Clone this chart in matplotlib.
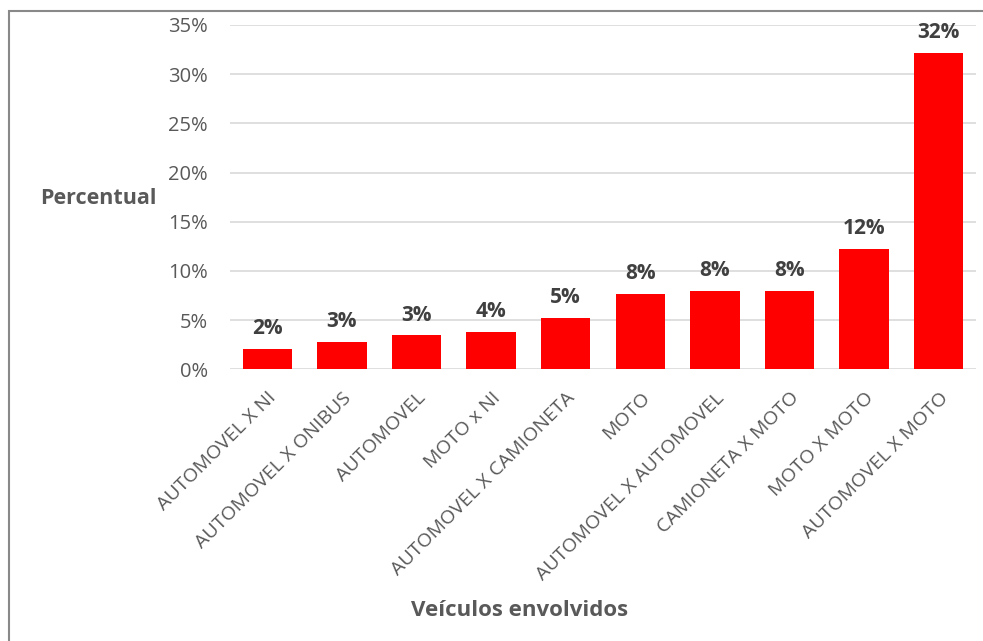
import matplotlib
matplotlib.use('Agg')
import matplotlib.pyplot as plt
from matplotlib.patches import Rectangle
from matplotlib.ticker import FuncFormatter

# data
categorias = ['AUTOMOVEL X NI', 'AUTOMOVEL X ONIBUS', 'AUTOMOVEL', 'MOTO x NI',
              'AUTOMOVEL X CAMIONETA', 'MOTO', 'AUTOMOVEL X AUTOMOVEL',
              'CAMIONETA X MOTO', 'MOTO X MOTO', 'AUTOMOVEL X MOTO']
percentual = [2.05, 2.75, 3.45, 3.8, 5.2, 7.65, 7.95, 7.95, 12.2, 32.2]
y_ticks = [0, 5, 10, 15, 20, 25, 30, 35]

plt.rcParams['font.family'] = ['Open Sans', 'DejaVu Sans']

W, H = 983, 641
fig = plt.figure(figsize=(W / 100, H / 100), dpi=100)
ax = fig.add_axes([230 / W, 1 - 369.3 / H, (976 - 230) / W, (369.3 - 25) / H])

x = range(len(categorias))
bars = ax.bar(x, percentual, width=0.66, color='#ff0000', zorder=3)

# data labels
for xi, v in zip(x, percentual):
    ax.text(xi, v + 1.0, '{:.0f}%'.format(v), ha='center', va='bottom',
            fontsize=15, fontweight='bold', color='#404040')

ax.set_xlim(-0.5, len(categorias) - 0.5)
ax.set_ylim(0, 35)
ax.set_yticks(y_ticks)
ax.yaxis.set_major_formatter(FuncFormatter(lambda v, p: '{:.0f}%'.format(v)))
ax.grid(axis='y', color='#d9d9d9', linewidth=1.2, zorder=0)
for s in ax.spines.values():
    s.set_visible(False)
ax.tick_params(axis='y', length=0, pad=16, labelsize=14.5, labelcolor='#595959')

ax.set_xticks(list(x))
ax.set_xticklabels(categorias, rotation=45, ha='right', va='top',
                   rotation_mode='anchor', fontsize=14, color='#595959')
ax.tick_params(axis='x', length=0, pad=14)

fig.text(98 / W, 1 - 199 / H, 'Percentual', ha='center', va='center',
         fontsize=15.5, fontweight='bold', color='#595959')
fig.text(520 / W, 1 - 610 / H, 'Veículos envolvidos', ha='center', va='center',
         fontsize=16, fontweight='bold', color='#595959')

# outer chart frame (cut at right and bottom like the screenshot)
fig.patches.append(Rectangle((9 / W, -0.05), 1.2, 1 - 11 / H + 0.05,
                             transform=fig.transFigure, fill=False,
                             edgecolor='#898989', linewidth=1.5))

fig.savefig('out.png', dpi=100)
